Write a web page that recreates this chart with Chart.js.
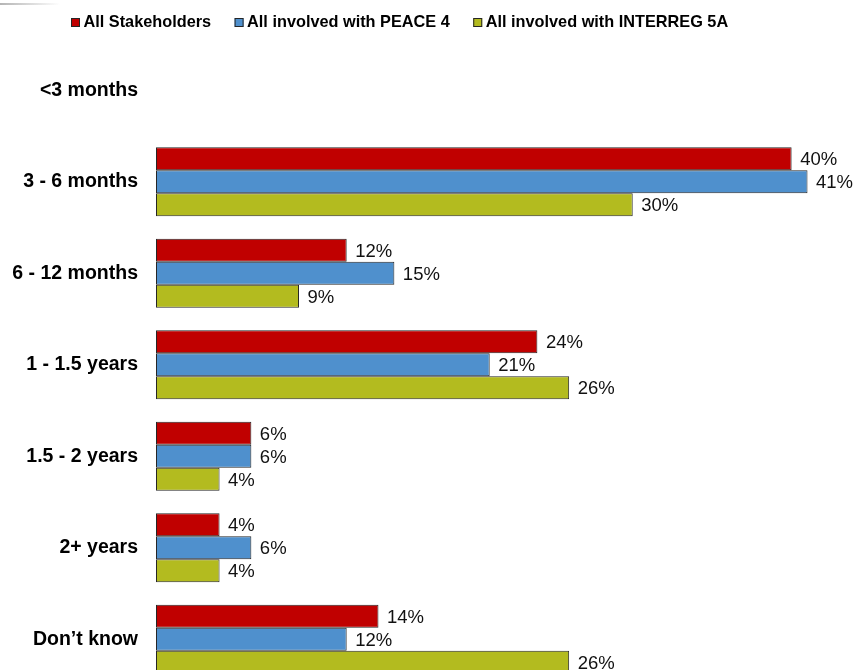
<!DOCTYPE html>
<html>
<head>
<meta charset="utf-8">
<script src="https://cdn.jsdelivr.net/npm/chart.js@4"></script>
<style>
  html, body { margin: 0; padding: 0; background: #fff; overflow: hidden; }
  #wrap { position: relative; width: 855px; height: 685px; }
  #rule { position: absolute; left: 0; top: 3px; width: 60px; height: 2px;
          background: linear-gradient(to right, #b4b4b4, rgba(255,255,255,0)); }
  canvas { display: block; }
</style>
</head>
<body>
<div id="wrap"><div id="rule"></div><canvas id="c" width="855" height="685"></canvas></div>
<script>
// Time-frame categories and the share of respondents (%) per group
const categories = ['<3 months', '3 - 6 months', '6 - 12 months', '1 - 1.5 years', '1.5 - 2 years', '2+ years', 'Don\u2019t know'];
const seriesNames = ['All Stakeholders', 'All involved with PEACE 4', 'All involved with INTERREG 5A'];
const allStakeholders = [null, 40, 12, 24, 6, 4, 14];
const peace4 = [null, 41, 15, 21, 6, 6, 12];
const interreg5a = [null, 30, 9, 26, 4, 4, 26];

const palette = ['#C00000', '#4F90CD', '#B3BB1F'];
const FONT = '"Liberation Sans", Arial, sans-serif';

// Legend row drawn across the top
const topLegend = {
  id: 'topLegend',
  afterDraw(chart) {
    const ctx = chart.ctx;
    ctx.save();
    ctx.font = 'bold 16.3px ' + FONT;
    ctx.textBaseline = 'middle';
    const box = 9, gapBox = 3.5, gapItem = 23.5, cy = 22.5;
    let x = 71;
    chart.data.datasets.forEach((d) => {
      const w = ctx.measureText(d.label).width;
      ctx.fillStyle = d.backgroundColor;
      ctx.fillRect(x, cy - box / 2, box, box);
      ctx.strokeStyle = '#262626';
      ctx.lineWidth = 1;
      ctx.strokeRect(x + 0.5, cy - box / 2 + 0.5, box - 1, box - 1);
      ctx.fillStyle = '#000';
      ctx.fillText(d.label, x + box + gapBox, cy);
      x += box + gapBox + w + gapItem;
    });
    ctx.restore();
  }
};

// Percentage labels just past the end of each bar
const valueLabels = {
  id: 'valueLabels',
  afterDatasetsDraw(chart) {
    const ctx = chart.ctx;
    ctx.save();
    ctx.font = '18.5px ' + FONT;
    ctx.fillStyle = '#111';
    ctx.textBaseline = 'middle';
    ctx.textAlign = 'left';
    chart.data.datasets.forEach((d, di) => {
      chart.getDatasetMeta(di).data.forEach((el, i) => {
        const v = d.data[i];
        if (v === null || v === undefined) return;
        ctx.fillText(v + '%', el.x + 8.5, el.y + 1.5);
      });
    });
    ctx.restore();
  }
};

const mkSet = (label, data, color) => ({
  label, data,
  backgroundColor: color,
  borderColor: '#262626',
  borderWidth: 1,
  borderSkipped: false,
  barPercentage: 1,
  categoryPercentage: 0.754
});

new Chart(document.getElementById('c'), {
  type: 'bar',
  data: {
    labels: categories,
    datasets: [
      mkSet(seriesNames[0], allStakeholders, palette[0]),
      mkSet(seriesNames[1], peace4, palette[1]),
      mkSet(seriesNames[2], interreg5a, palette[2])
    ]
  },
  options: {
    indexAxis: 'y',
    responsive: false,
    animation: false,
    layout: { padding: { top: 44.5, right: 15.7, bottom: 0, left: 0 } },
    plugins: { legend: { display: false }, tooltip: { enabled: false } },
    scales: {
      x: { min: 0, max: 43, display: false },
      y: {
        grid: { display: false, drawTicks: false },
        border: { display: false },
        ticks: { color: '#000', padding: 18, font: { family: FONT, size: 19.5, weight: 'bold' } },
        afterFit(scale) {
          scale.width = 156;
          scale.paddingTop = 0;
          scale.paddingBottom = 0;
        }
      }
    }
  },
  plugins: [topLegend, valueLabels]
});
</script>
</body>
</html>
